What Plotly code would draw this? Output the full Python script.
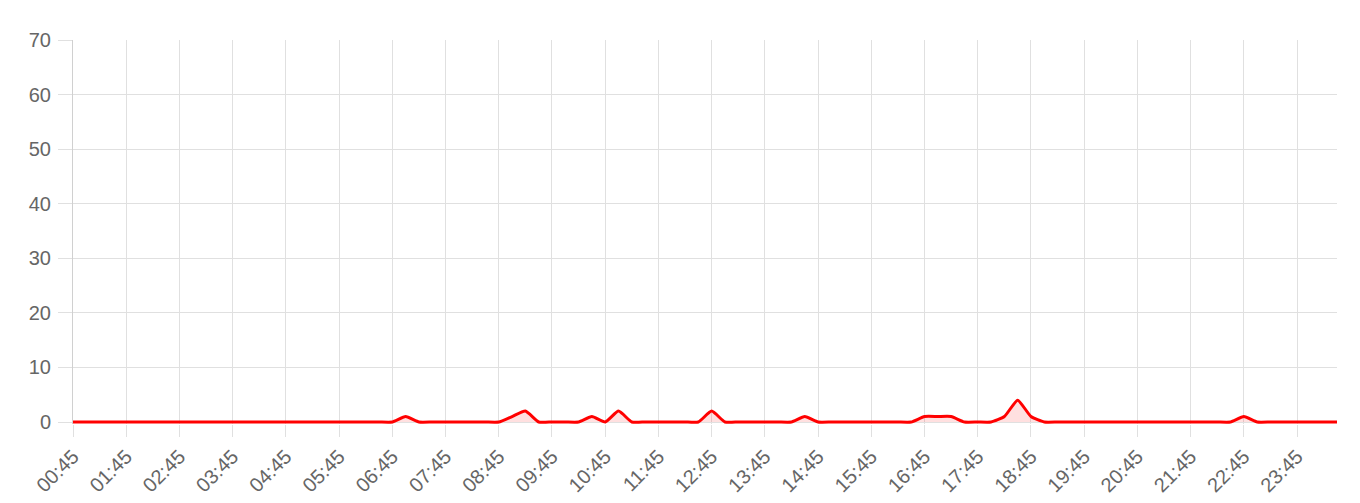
import plotly.graph_objects as go

# 15-minute slots starting at 00:45
times = []
for i in range(96):
    m = 45 + i * 15
    times.append("%02d:%02d" % ((m // 60) % 24, m % 60))

# non-zero counts, everything else is 0
peaks = {25: 1, 33: 1, 34: 2, 39: 1, 41: 2, 48: 2, 55: 1,
         64: 1, 65: 1, 66: 1, 70: 1, 71: 4, 72: 1, 88: 1}
counts = [peaks.get(i, 0) for i in range(96)]

tick_labels = times[::4]

fig = go.Figure()
fig.add_trace(go.Scatter(
    x=times, y=counts,
    mode='lines',
    line=dict(color='#ff0000', width=3, shape='spline', smoothing=0.5),
    fill='tozeroy',
    fillcolor='rgba(255,0,0,0.12)',
    hoverinfo='skip',
))

# page body has an 8px margin, so the figure is a bit smaller than the window.
# y range dips a hair below 0 so the line on the baseline isn't half clipped
fig.update_layout(
    width=1344, height=487,
    margin=dict(l=65, r=15, t=32, b=71),
    paper_bgcolor='white', plot_bgcolor='white',
    showlegend=False,
    font=dict(family='Liberation Sans, Arial, sans-serif', size=20, color='#666666'),
    xaxis=dict(
        type='category',
        range=[0, 95],
        tickmode='array', tickvals=tick_labels, ticktext=tick_labels,
        tickangle=-45,
        showgrid=True, gridcolor='#e0e0e0', gridwidth=1,
        ticks='outside', ticklen=12, tickcolor='#e0e0e0',
        showline=False, zeroline=False, automargin=False,
        tickfont=dict(size=20, color='#666666'),
    ),
    yaxis=dict(
        range=[-0.3665, 70],
        tickmode='linear', tick0=0, dtick=10,
        showgrid=True, gridcolor='#e0e0e0', gridwidth=1,
        ticks='outside', ticklen=14, tickcolor='#e0e0e0',
        ticklabelstandoff=3,
        showline=True, linecolor='#d0d0d0', linewidth=1,
        zeroline=False, automargin=False,
        tickfont=dict(size=20, color='#666666'),
    ),
)

fig.write_html("out.html")
